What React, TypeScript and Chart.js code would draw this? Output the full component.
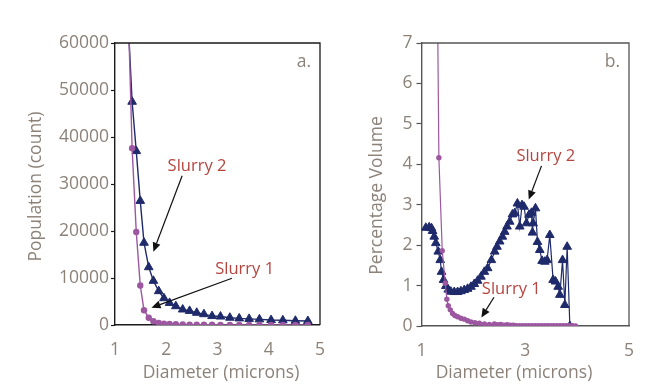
import { useEffect, useRef } from 'react';
import { Chart, registerables } from 'chart.js';

Chart.register(...registerables);

const FONT = '"Open Sans", sans-serif';
const GRAY = '#8c8279';
const RED = '#b4453f';
const NAVY = '#1f2a6b';
const PURPLE = '#9c57a0';

// ---------- Panel a: Population (count) ----------
const diameterA = [1.262, 1.334, 1.415, 1.493, 1.566, 1.658, 1.749, 1.853, 1.955, 2.065, 2.187, 2.321, 2.456, 2.595, 2.735, 2.894, 3.058, 3.241, 3.424, 3.617, 3.818, 4.045, 4.275, 4.52, 4.763];
const slurry1CountA = [65500, 37600, 19800, 8400, 3150, 1550, 800, 430, 280, 210, 150, 110, 80, 60, 50, 40, 30, 30, 20, 20, 20, 10, 10, 10, 10];
const slurry2CountA = [63400, 47500, 37000, 26400, 17500, 12300, 9400, 7200, 5700, 4700, 4000, 3300, 3000, 2600, 2300, 1900, 1800, 1550, 1400, 1300, 1200, 1050, 1000, 900, 850];
const yTicksA = [0, 10000, 20000, 30000, 40000, 50000, 60000];
const xTicksA = [1, 2, 3, 4, 5];

// ---------- Panel b: Percentage Volume ----------
const diameterB1 = [1.262, 1.335, 1.400, 1.458, 1.489, 1.516, 1.555, 1.599, 1.643, 1.696, 1.759, 1.825, 1.889, 1.953, 2.03, 2.115, 2.212, 2.308, 2.405, 2.47, 2.53, 2.59, 2.65, 2.71, 2.77, 2.83, 2.89, 2.95, 3.01, 3.07, 3.13, 3.19, 3.25, 3.31, 3.37, 3.43, 3.49, 3.55, 3.61, 3.67, 3.73, 3.79, 3.85, 3.91, 3.97];
const slurry1VolumeB = [14.6, 4.16, 1.86, 1.06, 0.66, 0.5, 0.4, 0.31, 0.26, 0.23, 0.19, 0.17, 0.13, 0.1, 0.08, 0.07, 0.05, 0.04, 0.05, 0.03, 0.04, 0.02, 0.03, 0.02, 0.02, 0.01, 0.01, 0.01, 0.01, 0.01, 0.01, 0.01, 0.01, 0.01, 0.01, 0.01, 0.01, 0.01, 0.01, 0.01, 0.01, 0.01, 0.01, 0.01, 0.0];
const diameterB2 = [1.083, 1.148, 1.193, 1.213, 1.245, 1.276, 1.323, 1.361, 1.386, 1.425, 1.47, 1.516, 1.566, 1.632, 1.696, 1.759, 1.825, 1.889, 1.953, 2.018, 2.082, 2.146, 2.212, 2.275, 2.347, 2.411, 2.455, 2.507, 2.559, 2.604, 2.648, 2.7, 2.753, 2.797, 2.849, 2.894, 2.938, 2.977, 3.023, 3.073, 3.12, 3.139, 3.151, 3.197, 3.236, 3.28, 3.325, 3.377, 3.421, 3.473, 3.537, 3.584, 3.634, 3.667, 3.719, 3.763, 3.808, 3.86];
const slurry2VolumeB = [2.43, 2.44, 2.42, 2.35, 2.21, 2.05, 1.84, 1.63, 1.34, 1.14, 0.99, 0.9, 0.85, 0.84, 0.84, 0.86, 0.89, 0.92, 0.97, 1.04, 1.12, 1.22, 1.34, 1.43, 1.63, 1.84, 1.96, 2.09, 2.21, 2.33, 2.46, 2.58, 2.76, 2.79, 3.03, 2.46, 2.99, 2.95, 2.54, 2.75, 2.8, 2.31, 2.54, 2.91, 2.08, 1.88, 1.61, 1.59, 1.63, 2.25, 1.14, 1.1, 0.97, 0.77, 1.63, 0.52, 1.96, 0];
const yTicksB = [0, 1, 2, 3, 4, 5, 6, 7];
const xTicksB = [1, 3, 5];

const seriesNames = ['Slurry 1', 'Slurry 2'];

// annotations: label anchor and arrow start/end in data units
type Ann = { text: string; tx: number; ty: number; x0: number; y0: number; x1: number; y1: number };
const annotationsA: Ann[] = [
  { text: seriesNames[1], tx: 2.6, ty: 33830, x0: 2.31, y0: 31770, x1: 1.749, y1: 15600 },
  { text: seriesNames[0], tx: 3.53, ty: 11850, x0: 3.283, y0: 9940, x1: 1.712, y1: 3680 },
];
const annotationsB: Ann[] = [
  { text: seriesNames[1], tx: 3.396, ty: 4.19, x0: 3.313, y0: 3.96, x1: 3.068, y1: 3.13 },
  { text: seriesNames[0], tx: 2.73, ty: 0.92, x0: 2.397, y0: 0.71, x1: 2.154, y1: 0.21 },
];

const pts = (xs: number[], ys: number[]) => xs.map((x, i) => ({ x, y: ys[i] }));

type Decor = {
  panel: string;
  axisColor: string;
  xTitle: string;
  yTitle: string;
  xTitlePos: [number, number];
  yTitlePos: [number, number];
  anns: Ann[];
};

function decorPlugin(d: Decor) {
  return {
    id: 'decor',
    afterDraw(chart: any) {
      const { ctx, chartArea: a, scales } = chart;
      const xs = scales.x;
      const ys = scales.y;
      ctx.save();
      ctx.strokeStyle = d.axisColor;
      ctx.lineWidth = 1.3;
      ctx.beginPath();
      ctx.moveTo(a.left, a.top);
      ctx.lineTo(a.right, a.top);
      ctx.lineTo(a.right, a.bottom);
      ctx.stroke();

      ctx.fillStyle = GRAY;
      ctx.font = `17.5px ${FONT}`;
      ctx.textAlign = 'right';
      ctx.textBaseline = 'middle';
      ctx.fillText(d.panel, a.right - 9, a.top + 19);

      ctx.textAlign = 'center';
      ctx.fillText(d.xTitle, d.xTitlePos[0], d.xTitlePos[1]);
      ctx.save();
      ctx.translate(d.yTitlePos[0], d.yTitlePos[1]);
      ctx.rotate(-Math.PI / 2);
      ctx.fillText(d.yTitle, 0, 0);
      ctx.restore();

      for (const an of d.anns) {
        ctx.fillStyle = RED;
        ctx.font = `16.5px ${FONT}`;
        ctx.textAlign = 'center';
        ctx.textBaseline = 'middle';
        ctx.fillText(an.text, xs.getPixelForValue(an.tx), ys.getPixelForValue(an.ty));
        const px0 = xs.getPixelForValue(an.x0);
        const py0 = ys.getPixelForValue(an.y0);
        const px1 = xs.getPixelForValue(an.x1);
        const py1 = ys.getPixelForValue(an.y1);
        const ang = Math.atan2(py1 - py0, px1 - px0);
        const hl = 9;
        const hw = 4;
        const bx = px1 - hl * Math.cos(ang);
        const by = py1 - hl * Math.sin(ang);
        ctx.strokeStyle = '#111';
        ctx.lineWidth = 1.2;
        ctx.beginPath();
        ctx.moveTo(px0, py0);
        ctx.lineTo(bx, by);
        ctx.stroke();
        ctx.fillStyle = '#111';
        ctx.beginPath();
        ctx.moveTo(px1, py1);
        ctx.lineTo(bx + hw * Math.sin(ang), by - hw * Math.cos(ang));
        ctx.lineTo(bx - hw * Math.sin(ang), by + hw * Math.cos(ang));
        ctx.closePath();
        ctx.fill();
      }
      ctx.restore();
    },
  };
}

function makeConfig(opts: {
  s1: { x: number; y: number }[];
  s2: { x: number; y: number }[];
  xTicks: number[];
  yTicks: number[];
  axisColor: string;
  yWidth: number;
  xHeight: number;
  padRight: number;
  yTickLen: number;
  yTickPad: number;
  dotR: number;
  triR: number;
  lineW: number;
  decor: Decor;
}) {
  const xmin = opts.xTicks[0];
  const xmax = opts.xTicks[opts.xTicks.length - 1];
  const ymin = opts.yTicks[0];
  const ymax = opts.yTicks[opts.yTicks.length - 1];
  return {
    type: 'line' as const,
    data: {
      datasets: [
        {
          label: seriesNames[0],
          data: opts.s1,
          borderColor: PURPLE,
          backgroundColor: PURPLE,
          borderWidth: opts.lineW,
          pointStyle: 'circle',
          pointRadius: opts.dotR,
          pointBorderWidth: 0,
          tension: 0,
          order: 0,
        },
        {
          label: seriesNames[1],
          data: opts.s2,
          borderColor: NAVY,
          backgroundColor: NAVY,
          borderWidth: opts.lineW,
          pointStyle: 'triangle',
          pointRadius: opts.triR,
          pointBorderWidth: 1,
          tension: 0,
          order: 1,
        },
      ],
    },
    options: {
      responsive: false,
      animation: false as const,
      layout: { padding: { top: 43, right: opts.padRight, left: 0, bottom: 0 } },
      plugins: { legend: { display: false }, tooltip: { enabled: false } },
      scales: {
        x: {
          type: 'linear' as const,
          min: xmin,
          max: xmax,
          afterFit: (s: any) => {
            s.height = opts.xHeight;
          },
          afterBuildTicks: (s: any) => {
            s.ticks = opts.xTicks.map((v) => ({ value: v }));
          },
          ticks: {
            color: GRAY,
            font: { family: FONT, size: 17.5 },
            padding: 15,
            maxRotation: 0,
            callback: (v: any) => String(v),
          },
          grid: { display: true, drawOnChartArea: false, drawTicks: false, color: opts.axisColor },
          border: { display: true, color: opts.axisColor, width: 1.4 },
          title: { display: false },
        },
        y: {
          type: 'linear' as const,
          min: ymin,
          max: ymax,
          afterFit: (s: any) => {
            s.width = opts.yWidth;
          },
          afterBuildTicks: (s: any) => {
            s.ticks = opts.yTicks.map((v) => ({ value: v }));
          },
          ticks: {
            color: GRAY,
            font: { family: FONT, size: 17.5 },
            padding: opts.yTickPad,
            callback: (v: any) => String(v),
          },
          grid: {
            display: true,
            drawOnChartArea: false,
            drawTicks: true,
            tickLength: opts.yTickLen,
            color: opts.axisColor,
            tickWidth: 1.2,
          },
          border: { display: true, color: opts.axisColor, width: 1.4 },
          title: { display: false },
        },
      },
    },
    plugins: [decorPlugin(opts.decor)],
  };
}

export default function App() {
  const leftRef = useRef<HTMLCanvasElement>(null);
  const rightRef = useRef<HTMLCanvasElement>(null);

  useEffect(() => {
    const left = new Chart(
      leftRef.current!,
      makeConfig({
        s1: pts(diameterA, slurry1CountA),
        s2: pts(diameterA, slurry2CountA),
        xTicks: xTicksA,
        yTicks: yTicksA,
        axisColor: '#1a1a1a',
        yWidth: 115,
        xHeight: 66,
        padRight: 6,
        yTickLen: 4,
        yTickPad: 2,
        dotR: 3.2,
        triR: 5,
        lineW: 1.4,
        decor: {
          panel: 'a.',
          axisColor: '#1a1a1a',
          xTitle: 'Diameter (microns)',
          yTitle: 'Population (count)',
          xTitlePos: [221, 373],
          yTitlePos: [36, 186.5],
          anns: annotationsA,
        },
      }) as any
    );
    const right = new Chart(
      rightRef.current!,
      makeConfig({
        s1: pts(diameterB1, slurry1VolumeB),
        s2: pts(diameterB2, slurry2VolumeB),
        xTicks: xTicksB,
        yTicks: yTicksB,
        axisColor: '#555555',
        yWidth: 81.5,
        xHeight: 65,
        padRight: 41,
        yTickLen: 5,
        yTickPad: 4,
        dotR: 2.7,
        triR: 5,
        lineW: 1.2,
        decor: {
          panel: 'b.',
          axisColor: '#555555',
          xTitle: 'Diameter (microns)',
          yTitle: 'Percentage Volume',
          xTitlePos: [174, 373],
          yTitlePos: [36.7, 195.5],
          anns: annotationsB,
        },
      }) as any
    );
    return () => {
      left.destroy();
      right.destroy();
    };
  }, []);

  return (
    <div style={{ position: 'fixed', left: 0, top: 0, width: 670, height: 391, background: '#fff', overflow: 'hidden' }}>
      <canvas ref={leftRef} width={340} height={391} style={{ position: 'absolute', left: 0, top: 0 }} />
      <canvas ref={rightRef} width={330} height={391} style={{ position: 'absolute', left: 340, top: 0 }} />
    </div>
  );
}
